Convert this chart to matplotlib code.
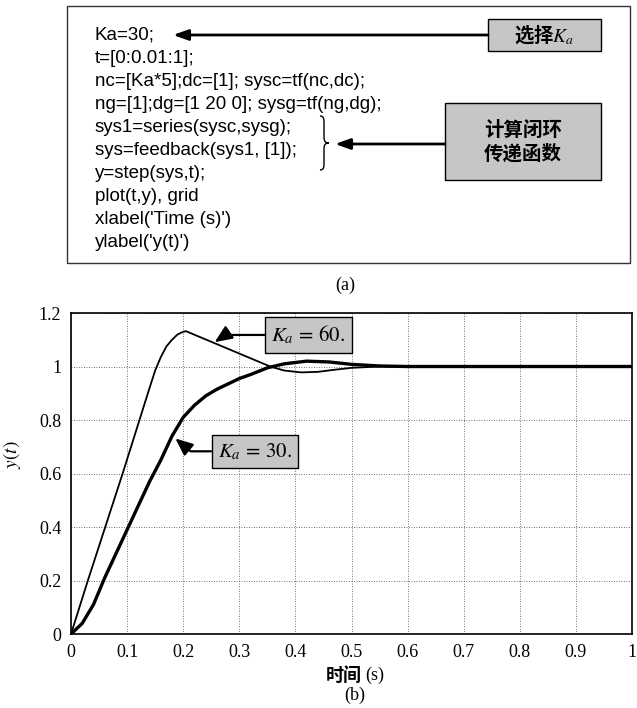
import numpy as np
import matplotlib.pyplot as plt
from matplotlib.patches import Rectangle, PathPatch
from matplotlib.path import Path

plt.rcParams['mathtext.fontset'] = 'stix'

# step responses
t_ka30 = [0, 0.02, 0.04, 0.06, 0.08, 0.10, 0.12, 0.14, 0.16, 0.18, 0.20, 0.22, 0.24,
          0.26, 0.28, 0.30, 0.32, 0.35, 0.38, 0.42, 0.46, 0.50, 0.55, 0.60, 1.0]
y_ka30 = [0, 0.04, 0.11, 0.21, 0.30, 0.39, 0.48, 0.57, 0.65, 0.74, 0.81, 0.855, 0.89,
          0.915, 0.935, 0.955, 0.97, 0.995, 1.01, 1.02, 1.017, 1.008, 1.002, 1.0, 1.0]

t_ka60 = [0, 0.03, 0.061, 0.092, 0.122, 0.14, 0.15, 0.16, 0.17, 0.18, 0.19, 0.20, 0.205,
          0.355, 0.38, 0.41, 0.44, 0.47, 0.50, 0.55, 0.60, 1.0]
y_ka60 = [0, 0.20, 0.40, 0.60, 0.80, 0.92, 0.985, 1.035, 1.075, 1.10, 1.12, 1.13, 1.132,
          1.0, 0.985, 0.978, 0.98, 0.988, 0.995, 1.0, 1.0, 1.0]

xticks = [0, 0.1, 0.2, 0.3, 0.4, 0.5, 0.6, 0.7, 0.8, 0.9, 1.0]
xtick_labels = ['0', '0.1', '0.2', '0.3', '0.4', '0.5', '0.6', '0.7', '0.8', '0.9', '1']
yticks = [0, 0.2, 0.4, 0.6, 0.8, 1.0, 1.2]
ytick_labels = ['0', '0.2', '0.4', '0.6', '0.8', '1', '1.2']

code_lines = [
    "Ka=30;",
    "t=[0:0.01:1];",
    "nc=[Ka*5];dc=[1]; sysc=tf(nc,dc);",
    "ng=[1];dg=[1 20 0]; sysg=tf(ng,dg);",
    "sys1=series(sysc,sysg);",
    "sys=feedback(sys1, [1]);",
    "y=step(sys,t);",
    "plot(t,y), grid",
    "xlabel('Time (s)')",
    "ylabel('y(t)')",
]

CJK = ['Noto Sans CJK SC', 'DejaVu Sans']
SERIF = 'Liberation Serif'
GRAY = '#c6c6c6'

fig = plt.figure(figsize=(6.37, 7.08), dpi=100)

# ---- (b) step response plot ----
ax = fig.add_axes([0.1115, 0.1045, 0.8807, 0.4534])
ax.plot(t_ka60, y_ka60, color='black', lw=1.3)
ax.plot(t_ka30, y_ka30, color='black', lw=2.4)
ax.set_xlim(0, 1)
ax.set_ylim(0, 1.2)
ax.set_xticks(xticks, xtick_labels)
ax.set_yticks(yticks, ytick_labels)
ax.tick_params(length=0, pad=7, labelsize=13)
for lab in ax.get_xticklabels() + ax.get_yticklabels():
    lab.set_family(SERIF)
ax.grid(True, color='#444444', ls=(0, (1, 2)), lw=0.6)
for sp in ax.spines.values():
    sp.set_linewidth(1.2)
ax.set_ylabel(r'$y(t)$', fontsize=14)
ax.yaxis.set_label_coords(-0.085, 0.56)

box_kw = dict(boxstyle='square,pad=0.3', fc=GRAY, ec='black', lw=1)
ax.annotate(r'$K_a\, =\, 60.$', xy=(0.256, 1.091), xytext=(0.423, 1.118),
            ha='center', va='center', fontsize=15, bbox=box_kw,
            arrowprops=dict(arrowstyle='-|>,head_length=0.7,head_width=0.3',
                            color='black', lw=1.6, shrinkA=0, shrinkB=0,
                            connectionstyle='angle,angleA=0,angleB=34,rad=0'))
ax.annotate(r'$K_a\, =\, 30.$', xy=(0.186, 0.731), xytext=(0.328, 0.683),
            ha='center', va='center', fontsize=15, bbox=box_kw,
            arrowprops=dict(arrowstyle='-|>,head_length=0.7,head_width=0.3',
                            color='black', lw=1.6, shrinkA=0, shrinkB=0,
                            connectionstyle='angle,angleA=0,angleB=-40,rad=0'))

# ---- overlay in pixel coordinates for (a) and captions ----
ov = fig.add_axes([0, 0, 1, 1])
ov.set_xlim(0, 637)
ov.set_ylim(708, 0)
ov.axis('off')

ov.add_patch(Rectangle((67, 6), 563, 257, fill=False, ec='#333333', lw=1))
for i, line in enumerate(code_lines):
    ov.text(95, 35 + i * 23.1, line, ha='left', va='center',
            fontsize=13.5, family='Liberation Sans')

# "select Ka" box
ov.add_patch(Rectangle((488, 19), 113, 32, fc=GRAY, ec='black', lw=1))
ov.text(544, 35, r'选择$K_a$', ha='center', va='center', fontsize=14,
        family=CJK, weight='bold')
ov.annotate('', xy=(173, 35), xytext=(488, 35),
            arrowprops=dict(arrowstyle='-|>,head_length=0.9,head_width=0.32',
                            color='black', lw=2, shrinkA=0, shrinkB=0))

# "closed loop tf" box
ov.add_patch(Rectangle((445, 103), 156, 77, fc=GRAY, ec='black', lw=1))
ov.text(523, 142, '计算闭环\n传递函数', ha='center', va='center', fontsize=14,
        family=CJK, weight='bold', linespacing=1.25)
ov.annotate('', xy=(335, 144), xytext=(445, 144),
            arrowprops=dict(arrowstyle='-|>,head_length=0.9,head_width=0.32',
                            color='black', lw=2, shrinkA=0, shrinkB=0))

# brace
verts = [(320, 116), (324, 116), (324, 119), (324, 124),
         (324, 137),
         (324, 141), (325, 143), (329, 143),
         (325, 143), (324, 145), (324, 149),
         (324, 162),
         (324, 167), (324, 170), (320, 170)]
codes = [Path.MOVETO, Path.CURVE4, Path.CURVE4, Path.CURVE4,
         Path.LINETO,
         Path.CURVE4, Path.CURVE4, Path.CURVE4,
         Path.CURVE4, Path.CURVE4, Path.CURVE4,
         Path.LINETO,
         Path.CURVE4, Path.CURVE4, Path.CURVE4]
ov.add_patch(PathPatch(Path(verts, codes), fill=False, ec='black', lw=1))

ov.text(345, 285, '(a)', ha='center', va='center', fontsize=13, family=SERIF)
ov.text(362, 675, '时间', ha='right', va='center', fontsize=13, family=CJK, weight='bold')
ov.text(365, 675, '(s)', ha='left', va='center', fontsize=13, family=SERIF)
ov.text(355, 695, '(b)', ha='center', va='center', fontsize=13, family=SERIF)

fig.savefig('out.png', dpi=100)
